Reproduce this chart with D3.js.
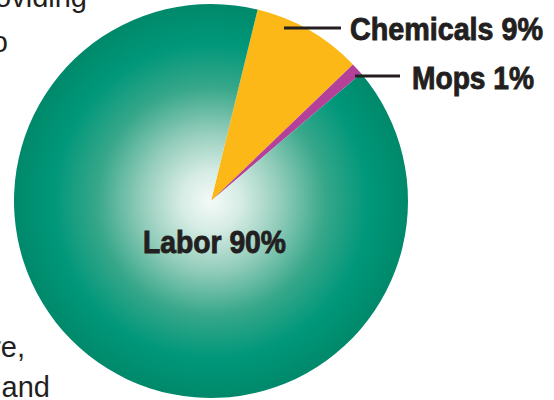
<!DOCTYPE html>
<html>
<head>
<meta charset="utf-8">
<script src="https://cdn.jsdelivr.net/npm/d3@7"></script>
<style>
  body { margin: 0; background: #fff; }
  svg { display: block; }
</style>
</head>
<body>
<svg id="chart" width="554" height="400"></svg>
<script>
/*
  pie of cleaning costs, drawn with d3
*/

// data
var categories = ["Chemicals", "Mops", "Labor"];
var values = [9, 1, 90];
var labels = ["Chemicals 9%", "Mops 1%", "Labor 90%"];
var sliceColors = ["#fbb817", "#b5409a", "url(#labor-grad)"];

// fragments of the article text wrapping round the pie
var bodyText = ["oviding", "o", "re,", "and"];

var svg = d3.select("#chart");
var cx = 211, cy = 201, radius = 197;

// radial gradient for the labor slice (coords in the pie group's space)
var defs = svg.append("defs");
var grad = defs.append("radialGradient")
    .attr("id", "labor-grad")
    .attr("gradientUnits", "userSpaceOnUse")
    .attr("cx", 0).attr("cy", 0).attr("r", radius);
grad.selectAll("stop")
  .data([
    {offset: "0%", color: "#f4faf8"},
    {offset: "15%", color: "#d6ece5"},
    {offset: "35%", color: "#94cdbb"},
    {offset: "58%", color: "#37a78a"},
    {offset: "80%", color: "#00977a"},
    {offset: "100%", color: "#00896a"}
  ])
  .enter().append("stop")
  .attr("offset", function(d) { return d.offset; })
  .attr("stop-color", function(d) { return d.color; });

var start = 0.239; // chemicals slice begins a little right of twelve o'clock
var pie = d3.pie().sort(null).value(function(d) { return d; })
    .startAngle(start).endAngle(start + 2 * Math.PI);
var arc = d3.arc().innerRadius(0).outerRadius(radius);

var g = svg.append("g").attr("transform", "translate(" + cx + "," + cy + ")");
g.selectAll("path")
  .data(pie(values))
  .enter().append("path")
  .attr("d", arc)
  .attr("fill", function(d, i) { return sliceColors[i]; });

// labels and leader lines
var labelFont = "'Liberation Sans Narrow', 'Liberation Sans', Arial, sans-serif";
var labelPos = [
  {x: 350, y: 40, w: 193, line: [284, 28, 341, 28]},
  {x: 412, y: 89, w: 122, line: [355, 76, 400, 76]},
  {x: 143, y: 253, w: 143, line: null}
];

labelPos.forEach(function(p, i) {
  if (p.line) {
    svg.append("line")
      .attr("x1", p.line[0]).attr("y1", p.line[1])
      .attr("x2", p.line[2]).attr("y2", p.line[3])
      .attr("stroke", "#231f20")
      .attr("stroke-width", 3);
  }
  svg.append("text")
    .attr("x", p.x).attr("y", p.y)
    .attr("font-family", labelFont)
    .attr("font-weight", "bold")
    .attr("font-size", 31)
    .attr("fill", "#231f20")
    .attr("stroke", "#231f20")
    .attr("stroke-width", 0.9)
    .attr("textLength", p.w)
    .attr("lengthAdjust", "spacingAndGlyphs")
    .text(labels[i]);
});

// body text fragments on the left
var bodyPos = [[87, 7], [8, 52], [25, 357], [50, 397]];
bodyText.forEach(function(t, i) {
  svg.append("text")
    .attr("x", bodyPos[i][0]).attr("y", bodyPos[i][1])
    .attr("text-anchor", "end")
    .attr("font-family", "'Liberation Sans', Arial, sans-serif")
    .attr("font-size", 29)
    .attr("fill", "#231f20")
    .text(t);
});
</script>
</body>
</html>
